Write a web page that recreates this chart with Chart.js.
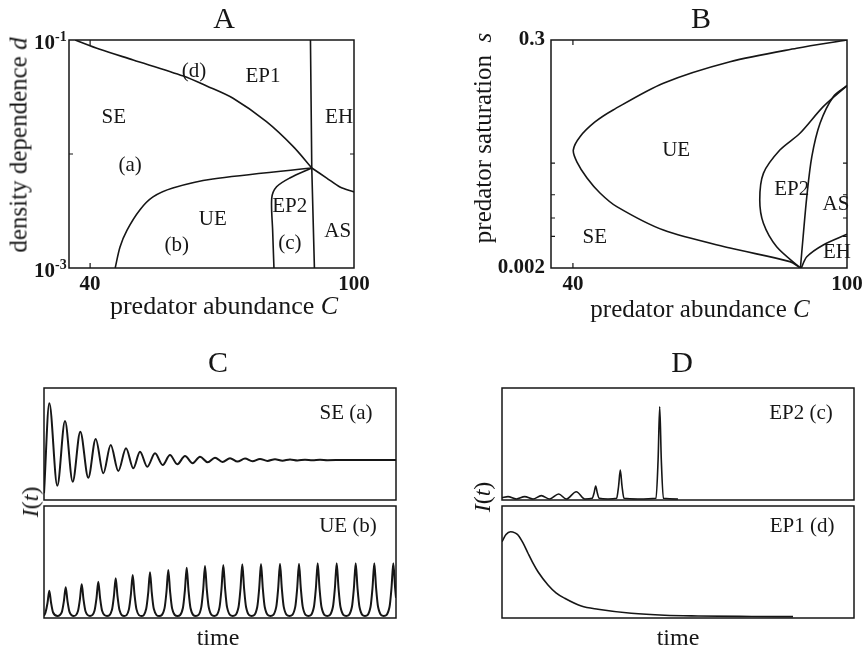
<!DOCTYPE html>
<html>
<head>
<meta charset="utf-8">
<title>Dynamical regimes of the predator model</title>
<script src="https://cdn.jsdelivr.net/npm/chart.js@4.4.1/dist/chart.umd.min.js"></script>
<style>
html,body{margin:0;padding:0;background:#fff;}
#fig{position:relative;width:863px;height:655px;overflow:hidden;background:#fff;font-family:"Liberation Serif","Times New Roman",serif;color:#161616;}
#fig canvas{position:absolute;left:0;top:0;}
.lab{position:absolute;white-space:nowrap;line-height:1;transform:translate(-50%,-50%);}
.rot{transform:translate(-50%,-50%) rotate(-90deg);}
</style>
</head>
<body>
<div id="fig">
<canvas id="chartA" width="863" height="655"></canvas>
<canvas id="chartB" width="863" height="655"></canvas>
<canvas id="chartC1" width="863" height="655"></canvas>
<canvas id="chartC2" width="863" height="655"></canvas>
<canvas id="chartD1" width="863" height="655"></canvas>
<canvas id="chartD2" width="863" height="655"></canvas>

<div class="lab" style="left:224px;top:18px;font-size:30px">A</div>
<div class="lab" style="left:701px;top:18px;font-size:30px">B</div>
<div class="lab" style="left:218px;top:362px;font-size:30px">C</div>
<div class="lab" style="left:682px;top:362px;font-size:30px">D</div>
<div class="lab" style="left:224px;top:306px;font-size:26px">predator abundance <i>C</i></div>
<div class="lab" style="left:700px;top:308px;font-size:25px">predator abundance <i>C</i></div>
<div class="lab rot" style="left:18px;top:145px;font-size:25px">density dependence <i>d</i></div>
<div class="lab rot" style="left:482px;top:138px;font-size:25px">predator saturation&nbsp;&nbsp;<i>s</i></div>
<div class="lab rot" style="left:30px;top:502px;font-size:24px"><i>I</i>(<i>t</i>)</div>
<div class="lab rot" style="left:482px;top:497px;font-size:24px"><i>I</i>(<i>t</i>)</div>
<div class="lab" style="left:218px;top:637px;font-size:24px">time</div>
<div class="lab" style="left:678px;top:637px;font-size:24px">time</div>
</div>

<script>
// ---------------- Panel A : C (predator abundance) vs d (density dependence, log) ----------------
const aTopC   = [36.6, 42.2, 49.8, 61.2, 66.5, 72.5, 80.1, 86.2, 90.4];
const aTopD   = [0.1, 0.0829, 0.0668, 0.0483, 0.0395, 0.0308, 0.0192, 0.0116, 0.00754];
const aRightC = [90.4, 93.8, 96.8, 100];
const aRightD = [0.00754, 0.00615, 0.00514, 0.00465];
const aLowC   = [45.7, 46.8, 48.4, 51.3, 54.3, 58.8, 67.9, 90.4];
const aLowD   = [0.001, 0.00153, 0.00215, 0.00323, 0.0042, 0.00503, 0.00603, 0.00754];
const aVertC  = [90.1, 90.4, 91.0];
const aVertD  = [0.1, 0.00754, 0.001];
const aEp2C   = [81.8, 81.5, 81.3, 82.4, 85.4, 90.4];
const aEp2D   = [0.001, 0.00215, 0.00411, 0.00516, 0.00616, 0.00754];
const aXTicks = [40, 100];
const aYTicks = [0.1, 0.001];
const aYTickExp = ['-1', '-3'];
const aXMinor = [40];
const aYMinor = [0.01];
const aLabText = ['SE', '(a)', '(d)', 'EP1', 'EH', 'UE', '(b)', 'EP2', '(c)', 'AS'];
const aLabC    = [45.4, 49.1, 63.6, 79.3, 96.6, 67.9, 59.7, 85.4, 85.4, 96.3];
const aLabD    = [0.0207, 0.00801, 0.0534, 0.0483, 0.0207, 0.00264, 0.00159, 0.00343, 0.00163, 0.00211];

// ---------------- Panel B : C vs s (predator saturation, log) ----------------
const bUeC  = [100, 89.0, 74.4, 59.8, 48.8, 44.83, 41.55, 40.08, 40.89, 43.08, 45.92, 49.6, 59.8, 74.4, 87.5, 89.8];
const bUeS  = [0.3, 0.25, 0.186, 0.116, 0.0644, 0.0495, 0.0358, 0.0267, 0.0205, 0.01445, 0.0104, 0.0077, 0.0046, 0.0031, 0.0023, 0.002];
const bEp2C = [100, 94.8, 89.7, 85.3, 81.7, 80.9, 81.7, 84.6, 89.8];
const bEp2S = [0.11, 0.0693, 0.0386, 0.0267, 0.016, 0.0089, 0.00534, 0.00319, 0.002];
const bInC  = [100, 97.0, 94.1, 92.3, 91.2, 90.4, 89.8];
const bInS  = [0.11, 0.0863, 0.0481, 0.0231, 0.0096, 0.004, 0.002];
const bEhC  = [90.0, 91.2, 94.8, 100];
const bEhS  = [0.002, 0.00256, 0.00332, 0.0042];
const bXTicks = [40, 100];
const bYTicks = [0.002, 0.3];
const bXMinor = [40];
const bYMinor = [0.004, 0.006, 0.01, 0.02];
const bLabText = ['UE', 'EP2', 'AS', 'SE', 'EH'];
const bLabC    = [62.6, 87.9, 97.6, 44.8, 97.8];
const bLabS    = [0.0267, 0.01135, 0.00816, 0.00395, 0.00284];

// ---------------- Panels C, D : I(t) time series ----------------
const seT = [0, 5.3, 13.3, 21, 28.7, 36.3, 44.3, 51.7, 59.3, 66.7, 74.3, 82, 89.3, 96, 103.3, 111, 118.7, 126, 133.3, 141,
             148.7, 156, 163.7, 171, 178.5, 186, 193.5, 201, 208.5, 216, 223.5, 231, 238.5, 246, 253.5, 261, 268.5, 276, 283.5, 300, 352];
const seI = [6, 86.3, 12.8, 70.5, 16.3, 61, 19.9, 54.5, 23.8, 49.1, 25.9, 46.2, 28.3, 43.1, 29.7, 41.7, 31.3, 40.2, 31.9, 39.3,
             32.8, 38.7, 33.7, 37.8, 33.9, 37.3, 34.3, 37.0, 34.6, 36.7, 34.9, 36.4, 35.1, 36.2, 35.3, 36.0, 35.5, 35.9, 35.6, 35.7, 35.7];

const ueT = [0,
  1.5, 3.5, 5.3, 7.1, 9.1, 13.5,
  17.9, 19.9, 21.7, 23.5, 25.5, 29.7,
  33.9, 35.9, 37.7, 39.5, 41.5, 46.0,
  50.5, 52.5, 54.3, 56.1, 58.1, 63.0,
  67.9, 69.9, 71.7, 73.5, 75.5, 80.2,
  84.9, 86.9, 88.7, 90.5, 92.5, 97.4,
  102.2, 104.2, 106.0, 107.8, 109.8, 115.2,
  120.5, 122.5, 124.3, 126.1, 128.1, 133.5,
  138.9, 140.9, 142.7, 144.5, 146.5, 151.9,
  157.2, 159.2, 161.0, 162.8, 164.8, 170.2,
  175.5, 177.5, 179.3, 181.1, 183.1, 188.8,
  194.5, 196.5, 198.3, 200.1, 202.1, 207.7,
  213.2, 215.2, 217.0, 218.8, 220.8, 226.5,
  232.2, 234.2, 236.0, 237.8, 239.8, 245.5,
  251.2, 253.2, 255.0, 256.8, 258.8, 264.4,
  269.9, 271.9, 273.7, 275.5, 277.5, 283.2,
  288.9, 290.9, 292.7, 294.5, 296.5, 302.2,
  307.9, 309.9, 311.7, 313.5, 315.5, 321.0,
  326.5, 328.5, 330.3, 332.1, 334.1, 339.8,
  345.5, 347.5, 349.3, 351.1, 352];
const ueI = [2,
  4.9, 13.4, 24.4, 13.4, 4.9, 1.8,
  5.5, 15.1, 27.4, 15.1, 5.5, 1.8,
  6.0, 16.6, 30.1, 16.6, 6.0, 1.8,
  6.5, 17.8, 32.4, 17.8, 6.5, 1.8,
  7.1, 19.5, 35.4, 19.5, 7.1, 1.8,
  7.7, 21.1, 38.4, 21.1, 7.7, 1.8,
  8.2, 22.4, 40.8, 22.4, 8.2, 1.8,
  8.6, 23.6, 42.9, 23.6, 8.6, 1.8,
  9.0, 24.7, 44.9, 24.7, 9.0, 1.8,
  9.3, 25.5, 46.4, 25.5, 9.3, 1.8,
  9.5, 26.0, 47.3, 26.0, 9.5, 1.8,
  9.6, 26.3, 47.9, 26.3, 9.6, 1.8,
  9.6, 26.5, 48.2, 26.5, 9.6, 1.8,
  9.7, 26.7, 48.5, 26.7, 9.7, 1.8,
  9.7, 26.7, 48.5, 26.7, 9.7, 1.8,
  9.8, 26.8, 48.8, 26.8, 9.8, 1.8,
  9.8, 26.8, 48.8, 26.8, 9.8, 1.8,
  9.8, 26.8, 48.8, 26.8, 9.8, 1.8,
  9.8, 26.8, 48.8, 26.8, 9.8, 1.8,
  9.8, 26.8, 48.8, 26.8, 18];

const ep2T = [0, 6, 14.3, 22.7, 31, 39.3, 47.7, 56.7, 64.3, 74.3, 82.7, 90.2, 92.0, 93.7, 95.4, 97.2, 106,
              114.6, 116.6, 118.3, 120.0, 122.0, 136, 154.0, 156.1, 157.7, 159.3, 161.4, 176];
const ep2I = [2.1, 3.0, 0.9, 3.0, 0.9, 3.9, 0.9, 5.4, 0.9, 7.4, 0.9, 1.5, 6.0, 12.5, 6.0, 1.5, 0.9,
              1.5, 12.5, 26.8, 12.5, 1.5, 0.9, 1.5, 36, 83.3, 36, 1.5, 0.9];

const ep1T = [0, 4, 8.5, 13, 16, 21, 26, 31, 36, 46, 54, 62.7, 79.3, 96, 129.3, 162.7, 196, 250, 291];
const ep1I = [68.1, 74.5, 77, 76, 74.1, 67, 57.8, 49, 41.3, 29.5, 22.5, 17.6, 10.7, 7.8, 4.2, 2.4, 1.8, 1.4, 1.2];

const tsLabText = ['SE (a)', 'UE (b)', 'EP2 (c)', 'EP1 (d)'];
const tsLabT    = [302, 304, 299, 300];
const tsLabI    = [77, 82, 77, 82];

// ---------------- helpers ----------------
const INK = '#161616';
const SERIF = '"Liberation Serif", "Times New Roman", serif';
const pts = (xs, ys) => xs.map((x, i) => ({x: x, y: ys[i]}));

function curve(xs, ys, extra) {
  return Object.assign({data: pts(xs, ys), showLine: true, borderColor: INK, borderWidth: 1.6,
    pointRadius: 0, fill: false, tension: 0.3}, extra || {});
}

function makeFrame(cfg) {
  return {
    id: 'frame',
    afterDatasetsDraw(chart) {
      const ctx = chart.ctx, a = chart.chartArea;
      const sx = chart.scales.x, sy = chart.scales.y;
      ctx.save();
      ctx.strokeStyle = INK;
      ctx.lineWidth = 1.5;
      ctx.strokeRect(a.left, a.top, a.right - a.left, a.bottom - a.top);
      ctx.lineWidth = 1.2;
      ctx.beginPath();
      (cfg.xMinor || []).forEach(v => {
        const x = sx.getPixelForValue(v);
        ctx.moveTo(x, a.bottom); ctx.lineTo(x, a.bottom - 5);
        ctx.moveTo(x, a.top); ctx.lineTo(x, a.top + 5);
      });
      (cfg.yMinor || []).forEach(v => {
        const y = sy.getPixelForValue(v);
        ctx.moveTo(a.left, y); ctx.lineTo(a.left + 4, y);
        ctx.moveTo(a.right, y); ctx.lineTo(a.right - 4, y);
      });
      ctx.stroke();
      ctx.fillStyle = INK;
      ctx.textAlign = 'center';
      ctx.textBaseline = 'middle';
      ctx.font = '21px ' + SERIF;
      (cfg.text || []).forEach((t, i) => {
        ctx.fillText(t, sx.getPixelForValue(cfg.lx[i]), sy.getPixelForValue(cfg.ly[i]));
      });
      if (cfg.powValues) {
        cfg.powValues.forEach((v, i) => {
          const y = sy.getPixelForValue(v);
          ctx.textBaseline = 'alphabetic';
          ctx.textAlign = 'right';
          ctx.font = 'bold 21px ' + SERIF;
          ctx.fillText('10', a.left - 14, y + 9);
          ctx.textAlign = 'left';
          ctx.font = 'bold 14px ' + SERIF;
          ctx.fillText(cfg.powExp[i], a.left - 14, y + 1);
        });
      }
      ctx.restore();
    }
  };
}

const tickFont = {family: SERIF, size: 21, weight: 'bold'};

function xAxis(ticks) {
  return {
    type: 'linear', min: 35.2, max: 100,
    afterBuildTicks: s => { s.ticks = ticks.map(v => ({value: v})); },
    afterFit: s => { s.height = 52; s.paddingLeft = 0; s.paddingRight = 0; },
    grid: {display: false, drawTicks: false}, border: {display: false},
    ticks: {autoSkip: false, maxRotation: 0, minRotation: 0, padding: 4, color: INK, font: tickFont,
            callback: v => String(v)}
  };
}

const common = {responsive: false, animation: false, events: [], devicePixelRatio: 1};

// ---------------- Chart A ----------------
new Chart(document.getElementById('chartA'), {
  type: 'scatter',
  data: {datasets: [
    curve(aTopC, aTopD), curve(aRightC, aRightD), curve(aLowC, aLowD),
    curve(aVertC, aVertD, {tension: 0}), curve(aEp2C, aEp2D)
  ]},
  options: Object.assign({}, common, {
    layout: {padding: {left: 0, top: 40, right: 509, bottom: 335}},
    plugins: {legend: {display: false}, tooltip: {enabled: false}},
    scales: {
      x: xAxis(aXTicks),
      y: {type: 'logarithmic', min: 0.001, max: 0.1,
          afterFit: s => { s.width = 69; s.paddingTop = 0; s.paddingBottom = 0; },
          ticks: {display: false}, grid: {display: false}, border: {display: false}}
    }
  }),
  plugins: [makeFrame({xMinor: aXMinor, yMinor: aYMinor, text: aLabText, lx: aLabC, ly: aLabD,
                       powValues: aYTicks, powExp: aYTickExp})]
});

// ---------------- Chart B ----------------
new Chart(document.getElementById('chartB'), {
  type: 'scatter',
  data: {datasets: [
    curve(bUeC, bUeS), curve(bEp2C, bEp2S), curve(bInC, bInS), curve(bEhC, bEhS)
  ]},
  options: Object.assign({}, common, {
    layout: {padding: {left: 471, top: 40, right: 16, bottom: 335}},
    plugins: {legend: {display: false}, tooltip: {enabled: false}},
    scales: {
      x: xAxis(bXTicks),
      y: {type: 'logarithmic', min: 0.002, max: 0.3,
          afterBuildTicks: s => { s.ticks = bYTicks.map(v => ({value: v})); },
          afterFit: s => { s.width = 80; s.paddingTop = 0; s.paddingBottom = 0; },
          grid: {display: false, drawTicks: false}, border: {display: false},
          ticks: {autoSkip: false, padding: 6, color: INK, font: tickFont, callback: v => String(v)}}
    }
  }),
  plugins: [makeFrame({xMinor: bXMinor, yMinor: bYMinor, text: bLabText, lx: bLabC, ly: bLabS})]
});

// ---------------- Time series ----------------
function tsChart(id, xs, ys, pad, lw, li) {
  new Chart(document.getElementById(id), {
    type: 'scatter',
    data: {datasets: [{data: pts(xs, ys), showLine: true, borderColor: INK, borderWidth: lw,
                       pointRadius: 0, fill: false, cubicInterpolationMode: 'monotone'}]},
    options: Object.assign({}, common, {
      layout: {padding: pad},
      plugins: {legend: {display: false}, tooltip: {enabled: false}},
      scales: {
        x: {type: 'linear', min: 0, max: 352, display: false},
        y: {type: 'linear', min: 0, max: 100, display: false}
      }
    }),
    plugins: [makeFrame({text: [tsLabText[li]], lx: [tsLabT[li]], ly: [tsLabI[li]]})]
  });
}
tsChart('chartC1', seT, seI, {left: 44, top: 388, right: 467, bottom: 155}, 2.0, 0);
tsChart('chartC2', ueT, ueI, {left: 44, top: 506, right: 467, bottom: 37}, 2.0, 1);
tsChart('chartD1', ep2T, ep2I, {left: 502, top: 388, right: 9, bottom: 155}, 1.6, 2);
tsChart('chartD2', ep1T, ep1I, {left: 502, top: 506, right: 9, bottom: 37}, 1.6, 3);
</script>
</body>
</html>
